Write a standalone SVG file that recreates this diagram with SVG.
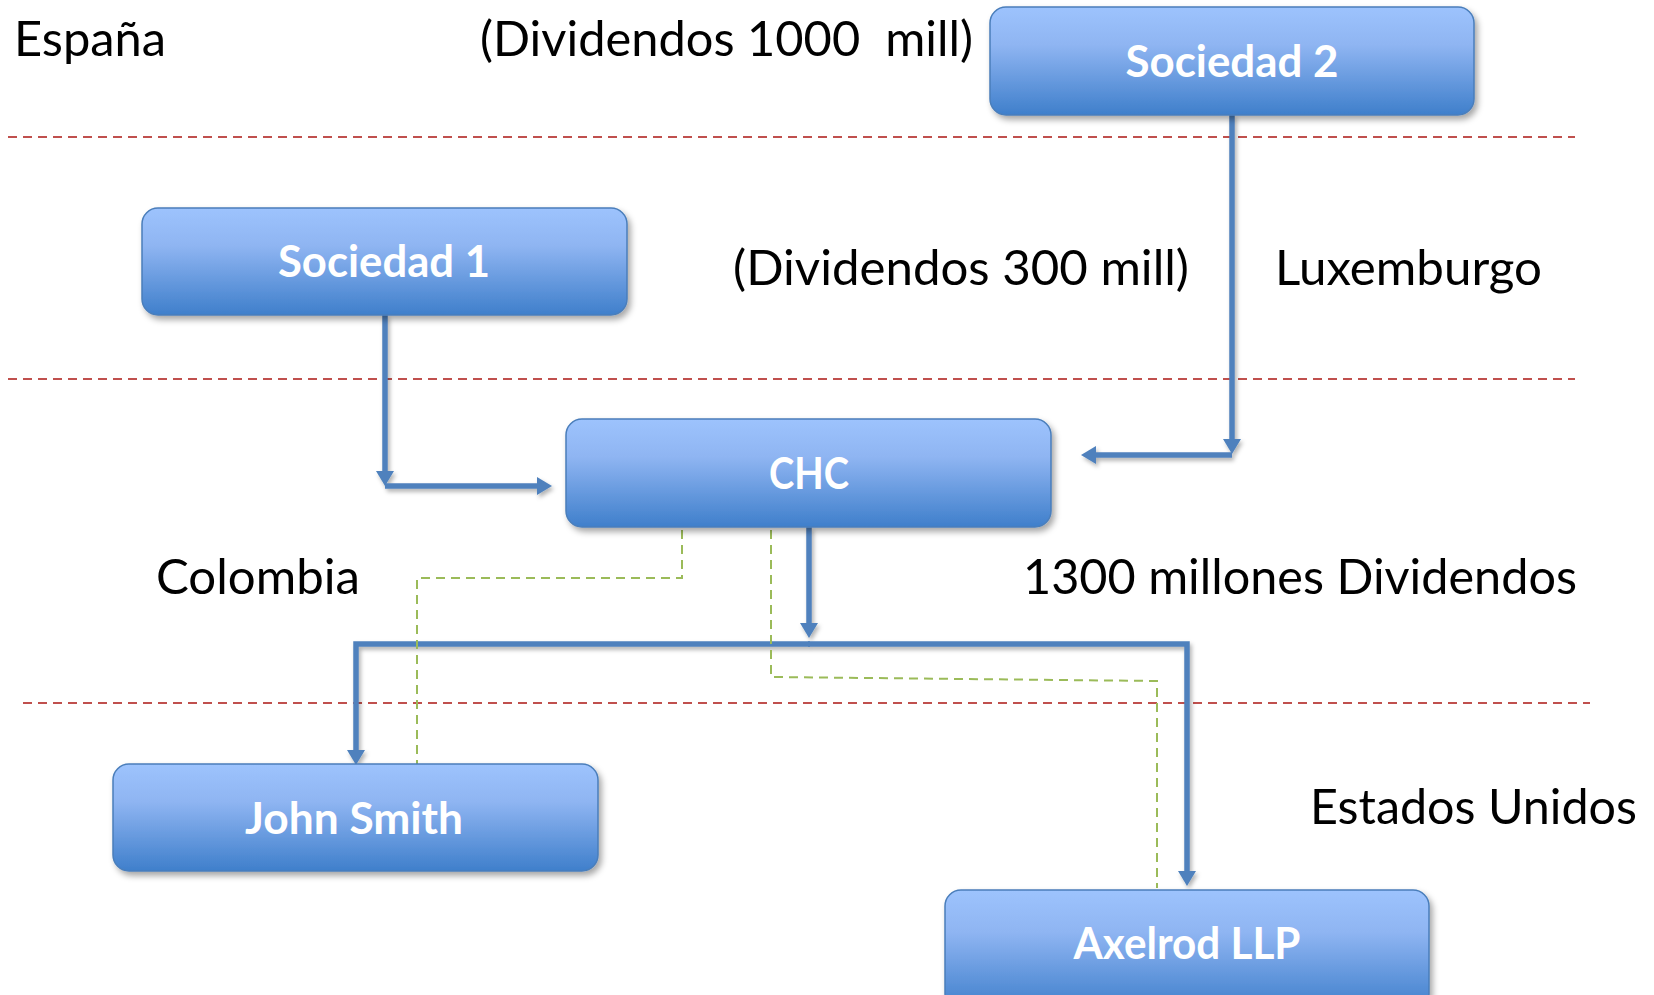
<svg xmlns="http://www.w3.org/2000/svg" width="1654" height="995" viewBox="0 0 1654 995">
<style>
.lbl{font-family:Lato,"Liberation Sans",sans-serif;font-size:48px;fill:#000}
.nt{font-family:Lato,"Liberation Sans",sans-serif;font-size:43px;font-weight:bold;fill:#fff;text-anchor:middle}
.box{fill:url(#bg);stroke:#4A7EBB;stroke-width:1.5;filter:url(#sh)}
.red{fill:none;stroke:#C0504D;stroke-width:2;stroke-dasharray:9 6}
.grn{fill:none;stroke:#9BBB59;stroke-width:2;stroke-dasharray:9 6}
.blu{fill:none;stroke:#4F81BD;stroke-width:5.5;marker-end:url(#ah)}
</style>
<defs>
<linearGradient id="bg" x1="0" y1="0" x2="0" y2="1">
<stop offset="0" stop-color="#9DC3FD"/>
<stop offset="0.35" stop-color="#8FB5F2"/>
<stop offset="1" stop-color="#3F7FCB"/>
</linearGradient>
<filter id="sh" x="-10%" y="-20%" width="125%" height="150%">
<feDropShadow dx="3" dy="4" stdDeviation="3" flood-color="#000" flood-opacity="0.35"/>
</filter>
<filter id="lsh" x="-20%" y="-20%" width="140%" height="140%">
<feDropShadow dx="2" dy="3" stdDeviation="2" flood-color="#000" flood-opacity="0.3"/>
</filter>
<marker id="ah" markerUnits="userSpaceOnUse" markerWidth="15" markerHeight="18" refX="4" refY="9" orient="auto">
<path d="M0,0 L15,9 L0,18 z" fill="#4F81BD"/>
</marker>
</defs>
<rect width="1654" height="995" fill="#fff"/>
<g id="separators">
<path class="red" d="M8,137 H1575"/>
<path class="red" d="M8,379 H1575"/>
<path class="red" d="M23,703 H1590"/>
</g>
<g id="labels">
<text class="lbl" x="14" y="56" textLength="152" lengthAdjust="spacingAndGlyphs">España</text>
<text class="lbl" x="480" y="56" xml:space="preserve" textLength="493" lengthAdjust="spacingAndGlyphs">(Dividendos 1000  mill)</text>
<text class="lbl" x="733" y="285" textLength="456" lengthAdjust="spacingAndGlyphs">(Dividendos 300 mill)</text>
<text class="lbl" x="1275" y="285" textLength="267" lengthAdjust="spacingAndGlyphs">Luxemburgo</text>
<text class="lbl" x="156" y="594" textLength="204" lengthAdjust="spacingAndGlyphs">Colombia</text>
<text class="lbl" x="1023" y="594" textLength="554" lengthAdjust="spacingAndGlyphs">1300 millones Dividendos</text>
<text class="lbl" x="1310" y="824" textLength="327" lengthAdjust="spacingAndGlyphs">Estados Unidos</text>
</g>
<g id="connectors">
<g filter="url(#lsh)">
<path class="blu" d="M385,315 V475"/>
<path class="blu" d="M385,486 H541"/>
<path class="blu" d="M1232,115 V443"/>
<path class="blu" d="M1232,455 H1092"/>
<path class="blu" d="M809,527 V627"/>
<path class="blu" d="M810,644 H356 V754"/>
<path class="blu" d="M808,644 H1187 V875"/>
</g>
<path class="grn" d="M682,530 V578 H417 V764"/>
<path class="grn" d="M771,530 V677 L1157,681 V888"/>
</g>
<g id="sociedad2">
<rect class="box" x="990" y="7" width="484" height="108" rx="16"/>
<text class="nt" x="1232" y="77" textLength="213" lengthAdjust="spacingAndGlyphs">Sociedad 2</text>
</g>
<g id="sociedad1">
<rect class="box" x="142" y="208" width="485" height="107" rx="16"/>
<text class="nt" x="384" y="277" textLength="212" lengthAdjust="spacingAndGlyphs">Sociedad 1</text>
</g>
<g id="chc">
<rect class="box" x="566" y="419" width="485" height="108" rx="16"/>
<text class="nt" x="809" y="489" textLength="80" lengthAdjust="spacingAndGlyphs">CHC</text>
</g>
<g id="johnsmith">
<rect class="box" x="113" y="764" width="485" height="107" rx="16"/>
<text class="nt" x="354" y="834" textLength="218" lengthAdjust="spacingAndGlyphs">John Smith</text>
</g>
<g id="axelrod">
<rect class="box" x="945" y="890" width="484" height="120" rx="16"/>
<text class="nt" x="1187" y="959" textLength="227" lengthAdjust="spacingAndGlyphs">Axelrod LLP</text>
</g>
</svg>
